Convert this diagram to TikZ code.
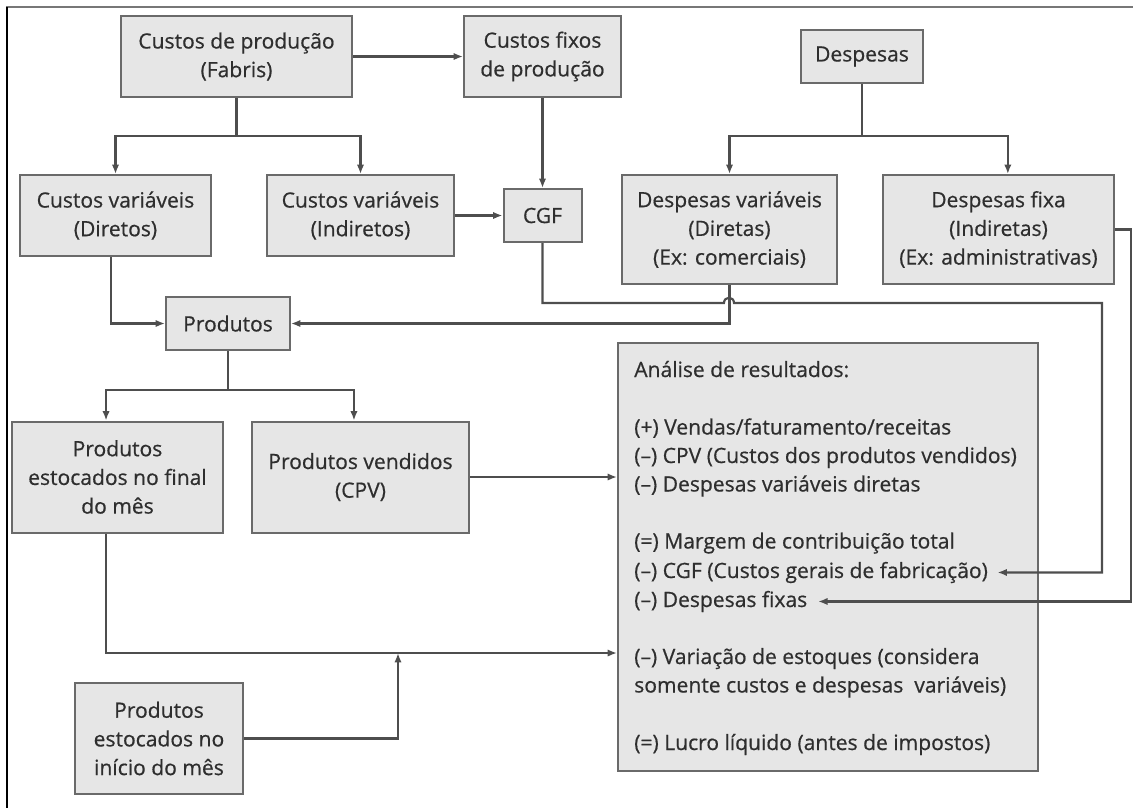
\documentclass[tikz,border=0pt]{standalone}
\usepackage{fontspec}
\setmainfont[FakeBold=0.6]{Open Sans}
\usetikzlibrary{arrows.meta}

\definecolor{boxfill}{HTML}{E6E6E6}
\definecolor{boxline}{HTML}{6A6A6A}
\definecolor{ink}{HTML}{2E2E2E}
\definecolor{wirecol}{HTML}{4E4E4E}
\definecolor{framecol}{HTML}{777777}

\begin{document}
\begin{tikzpicture}[x=0.75pt,y=-0.75pt,
  sz/.style 2 args={minimum width=#1*0.75pt, minimum height=#2*0.75pt},
  card/.style={draw=boxline, fill=boxfill, line width=1.5pt, text=ink,
    align=center, inner sep=0pt, font=\fontsize{15.8}{21.5}\selectfont},
  wire/.style={draw=wirecol, line width=1.6pt},
  flow/.style={wire, -{Latex[length=7pt,width=5.5pt]}},
  entry/.style={anchor=base west, inner sep=0pt, text=ink,
    font=\fontsize{15.8}{21.5}\selectfont}]
\useasboundingbox (0,0) rectangle (1133,808);

% page frame
\draw[framecol, line width=1.5pt] (6,7) -- (1133,7);
\draw[black, line width=1pt] (7,7) -- (7,808);

% boxes
\node[card, sz={231}{81}]  (cp)   at (236.5,56.5) {Custos de produção\\(Fabris)};
\node[card, sz={157}{81}]  (cf)   at (542.5,56.5) {Custos fixos\\de produção};
\node[card, sz={122}{53}]  (desp) at (862,56.5)   {Despesas};
\node[card, sz={191}{81}]  (cvd)  at (115.5,215.5) {Custos variáveis\\(Diretos)};
\node[card, sz={187}{81}]  (cvi)  at (360.5,215.5) {Custos variáveis\\(Indiretos)};
\node[card, sz={78}{53}]   (cgf)  at (542.5,215.5) {CGF};
\node[card, sz={215}{109}] (dv)   at (729.5,229.5) {Despesas variáveis\\(Diretas)\\(Ex: comerciais)};
\node[card, sz={231}{109}] (df)   at (998.5,229.5) {Despesas fixa\\(Indiretas)\\(Ex: administrativas)};
\node[card, sz={124}{53}]  (prod) at (228,323.5)  {Produtos};
\node[card, sz={211}{111}] (pef)  at (117.5,477)  {Produtos\\estocados no final\\do mês};
\node[card, sz={217}{111}] (pv)   at (360.5,477)  {Produtos vendidos\\(CPV)};
\node[card, sz={420}{428}] (ana)  at (828,557)    {};
\node[card, sz={168}{111}] (pei)  at (159,738.5)  {Produtos\\estocados no\\início do mês};

% result statement lines
\node[entry] (l0) at (634,377)   {Análise de resultados:};
\node[entry] (l1) at (634,434.5) {(+) Vendas/faturamento/receitas};
\node[entry] (l2) at (634,463)   {(–) CPV (Custos dos produtos vendidos)};
\node[entry] (l3) at (634,491.5) {(–) Despesas variáveis diretas};
\node[entry] (l4) at (634,548.5) {(=) Margem de contribuição total};
\node[entry] (l5) at (634,578)   {(–) CGF (Custos gerais de fabricação)};
\node[entry] (l6) at (634,607)   {(–) Despesas fixas};
\node[entry] (l7) at (634,664)   {(–) Variação de estoques (considera};
\node[entry] (l8) at (634,692.5) {somente custos e despesas\ \ variáveis)};
\node[entry] (l9) at (634,750)   {(=) Lucro líquido (antes de impostos)};

% junction points
\coordinate (j1) at (236.5,136);
\coordinate (j2) at (862,136);
\coordinate (j3) at (228,390);
\coordinate (m1) at (398,653);

% production costs
\draw[flow] (cp) -- (cf);
\draw[wire] (cp.south) -- (j1);
\draw[flow] (j1) -| (cvd.north);
\draw[flow] (j1) -| (cvi.north);
\draw[flow] (cf) -- (cgf);
\draw[flow] (cvi) -- (cgf);

% expenses
\draw[wire] (desp.south) -- (j2);
\draw[flow] (j2) -| (dv.north);
\draw[flow] (j2) -| ([xshift=7pt]df.north);

% into products
\draw[flow] ([xshift=-3.4pt]cvd.south) |- (prod.west);
\draw[flow] (dv.south) |- (prod.east);

% CGF to the result statement, hopping over the expenses line
\draw[flow] (cgf.south) -- (542.5,303) -- (724,303)
  .. controls (724,296) and (734,296) .. (734,303)
  -- (1102,303) |- ([xshift=7pt]l5.east);

% fixed expenses to the result statement
\draw[flow] (df.east) -- (1131,229.5) |- ([xshift=8pt]l6.east);

% products split
\draw[wire] (prod.south) -- (j3);
\draw[flow] (j3) -| ([xshift=-8.6pt]pef.north);
\draw[flow] (j3) -| ([xshift=-4.9pt]pv.north);

% sold products and stock variation
\draw[flow] (pv.east) -- (pv.east -| ana.west);
\draw[flow] ([xshift=-8.6pt]pef.south) |- (ana.west |- m1);
\draw[flow] (pei.east) -| (m1);
\end{tikzpicture}
\end{document}
